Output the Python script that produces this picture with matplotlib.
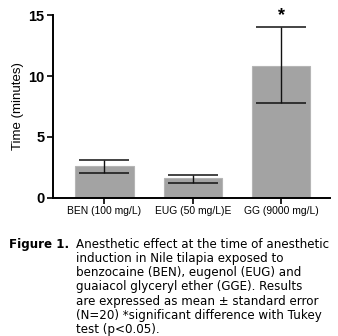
import numpy as np
import matplotlib.pyplot as plt

groups = ['BEN (100 mg/L)', 'EUG (50 mg/L)E', 'GG (9000 mg/L)']
means = [2.58, 1.60, 10.85]
err_low = [2.05, 1.26, 7.80]
err_high = [3.10, 1.92, 14.0]

fig = plt.figure(figsize=(3.38, 3.36), dpi=100)
ax = fig.add_axes([0.157, 0.411, 0.819, 0.544])

x = np.arange(len(groups))
yerr = [np.array(means) - np.array(err_low), np.array(err_high) - np.array(means)]
ax.bar(x, means, width=0.66, color='#a3a3a3', edgecolor='#b5b5b5', linewidth=0.8, zorder=2)
ax.errorbar(x, means, yerr=yerr, fmt='none', ecolor='#111111', elinewidth=1.0,
            capsize=18, capthick=1.1, zorder=3)
ax.text(x[2], 14.3, '*', ha='center', va='bottom', fontsize=13, fontweight='bold',
        family='Liberation Sans')

ax.set_xlim(-0.58, 2.55)
ax.set_ylim(0, 15)
ax.set_yticks([0, 5, 10, 15])
ax.set_yticklabels(['0', '5', '10', '15'], fontsize=10.5, fontweight='bold', family='Liberation Sans')
ax.set_xticks(x)
ax.set_xticklabels(groups, fontsize=7.4, family='Liberation Sans')
ax.set_ylabel('Time (minutes)', fontsize=9.5, family='Liberation Sans', labelpad=3)
for s in ['top', 'right']:
    ax.spines[s].set_visible(False)
for s in ['left', 'bottom']:
    ax.spines[s].set_linewidth(1.4)
ax.tick_params(axis='both', width=1.2, length=4, pad=2)

fig.text(0.205, 0.292, 'Figure 1.', fontsize=8.6, fontweight='bold', va='top', ha='right')
caption = ('Anesthetic effect at the time of anesthetic\n'
           'induction in Nile tilapia exposed to\n'
           'benzocaine (BEN), eugenol (EUG) and\n'
           'guaiacol glyceryl ether (GGE). Results\n'
           'are expressed as mean \u00b1 standard error\n'
           '(N=20) *significant difference with Tukey\n'
           'test (p<0.05).')
fig.text(0.224, 0.292, caption, fontsize=8.6, va='top', linespacing=1.12)

fig.savefig('out.png', dpi=100)
